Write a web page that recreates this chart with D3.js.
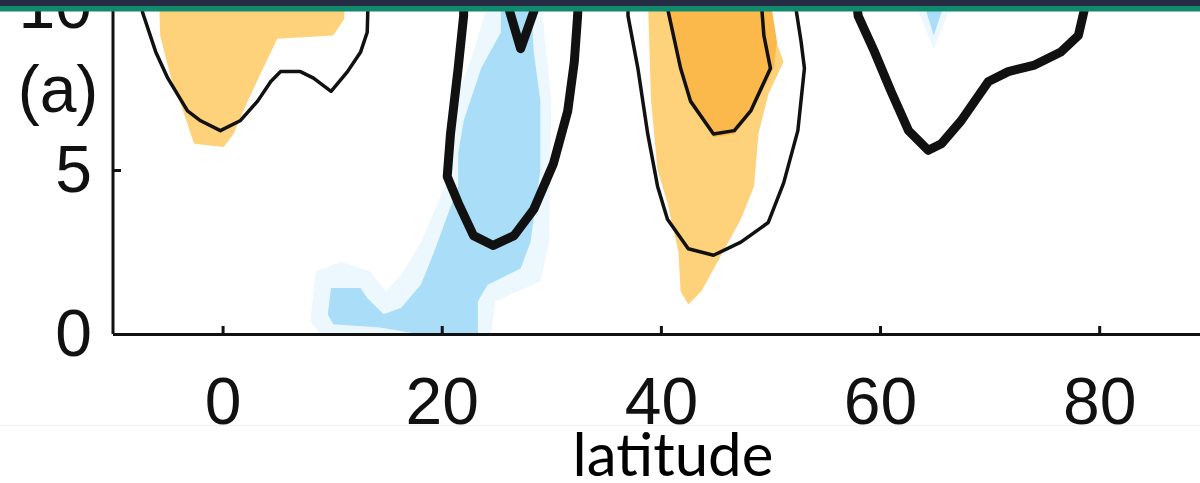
<!DOCTYPE html>
<html>
<head>
<meta charset="utf-8">
<script src="https://cdn.jsdelivr.net/npm/d3@7"></script>
<style>
  body { margin: 0; background: #fff; }
  svg { display: block; }
  .axis path, .axis line { stroke: #111; stroke-width: 3; }
  .axis text { font-family: "Liberation Sans", Arial, sans-serif; font-size: 66px; fill: #111; }
</style>
</head>
<body>
<svg></svg>
<script>
var width = 1200;
var height = 483;

// tick values
var latTicks = [0, 20, 40, 60, 80];
var heightTicks = [0, 5, 10];

// shaded regions, [latitude, height]
var paleBlueSouth = [[8.5,1.9],[8.0,0.4],[8.9,0],[24.5,0],[24.9,1.0],[29.0,1.6],[29.8,2.8],[30.0,7.1],[29.0,10.4],
  [24.5,10.4],[22.6,8.3],[20.8,6.8],[20.4,4.6],[18.1,2.8],[16.3,1.8],[14.9,1.3],[13.5,1.9],[10.8,2.2]];
var blueSouth = [[25.4,10.4],[25.4,9.2],[23.6,8.1],[22.0,6.5],[21.5,5.5],[21.5,4.5],[20.5,3.6],[19.3,2.5],[18.1,1.5],
  [16.3,0.8],[14.7,0.6],[13.2,1.1],[12.6,1.4],[9.9,1.4],[9.6,0.6],[10.1,0.3],[14.4,0.2],[17.8,0],[23.3,0],
  [23.3,1.0],[24.2,1.5],[27.2,2.0],[28.1,2.8],[29.0,5.0],[29.0,7.1],[28.4,8.6],[28.1,10.4]];
var paleBlueNorth = [[62.8,10.4],[64.9,8.7],[67.0,10.4]];
var blueNorth = [[63.7,10.4],[64.9,9.1],[66.2,10.4]];
var orangeWest = [[-5.8,10.4],[-5.7,9.1],[-4.7,7.8],[-3.7,6.9],[-2.6,5.8],[0.1,5.7],[1.0,6.1],[2.3,7.1],[3.7,8.1],
  [5.0,9.0],[10.1,9.1],[11.1,9.6],[11.2,10.4]];
var orangeMid = [[38.8,10.4],[39.1,7.1],[39.7,5.0],[40.6,4.0],[41.6,2.5],[41.8,1.3],[42.5,0.9],[43.7,1.3],[45.5,2.4],
  [47.3,3.5],[48.5,4.5],[48.9,6.1],[49.8,7.3],[51.2,8.3],[50.3,9.1],[50.0,10.4]];
var orangeMidStrong = [[40.3,10.4],[41.8,8.1],[42.7,7.1],[44.8,6.0],[46.7,6.1],[48.2,6.7],[50.3,8.1],[50.6,8.9],[49.9,10.4]];

// contour lines, [latitude, height]
var contourWest = [[-7.5,10.4],[-7.3,9.8],[-6.1,8.6],[-5.0,7.8],[-3.2,6.8],[-2.0,6.5],[-0.2,6.2],[1.6,6.5],[3.2,7.1],
  [4.4,7.7],[5.3,8.0],[7.1,8.0],[8.3,7.8],[9.9,7.4],[11.4,8.0],[12.6,8.6],[13.2,9.2],[13.3,10.4]];
var contourSubtropic = [[22.0,10.4],[22.0,9.7],[21.5,8.1],[20.8,6.1],[20.5,4.8],[21.5,4.0],[22.9,3.0],[24.7,2.7],
  [26.6,3.0],[28.4,3.8],[30.2,5.2],[31.5,6.8],[32.1,8.3],[32.4,9.7],[32.5,10.4]];
var contourNotch = [[25.7,10.4],[27.2,8.7],[29.0,10.4]];
var contourMidOuter = [[37.0,10.4],[37.0,9.7],[37.9,8.1],[38.8,6.1],[39.7,4.5],[40.6,3.5],[42.5,2.6],[44.8,2.4],
  [47.3,2.8],[49.8,3.4],[51.2,4.6],[52.5,6.2],[53.1,8.1],[52.8,8.9],[52.1,10.4]];
var contourMidInner = [[40.3,10.4],[41.8,8.1],[42.7,7.1],[44.8,6.1],[46.7,6.2],[48.2,6.8],[50.0,8.1],[49.4,9.1],[49.1,10.4]];
var contourPolar = [[57.8,10.4],[58.0,9.7],[59.5,8.6],[61.0,7.4],[62.6,6.2],[64.4,5.6],[65.6,5.8],[67.4,6.5],
  [69.9,7.7],[71.7,8.0],[74.1,8.2],[76.5,8.6],[78.1,9.1],[79.0,10.4]];

var svg = d3.select("svg").attr("width", width).attr("height", height);

var x = d3.scaleLinear().domain([-10, 89.2]).range([113, 1200]);
var y = d3.scaleLinear().domain([0, 10]).range([334, 6]);

var defs = svg.append("defs");
defs.append("clipPath").attr("id", "plotClip")
  .append("rect").attr("x", x(-10)).attr("y", 0).attr("width", width).attr("height", y(0));
defs.append("clipPath").attr("id", "figClip")
  .append("rect").attr("x", 0).attr("y", 0).attr("width", width).attr("height", 425);

var fig = svg.append("g").attr("clip-path", "url(#figClip)");
var plot = fig.append("g").attr("clip-path", "url(#plotClip)");

var shape = d3.line().x(function(d) { return x(d[0]); }).y(function(d) { return y(d[1]); })
  .curve(d3.curveLinearClosed);
var line = d3.line().x(function(d) { return x(d[0]); }).y(function(d) { return y(d[1]); })
  .curve(d3.curveLinear);

var fills = [
  {pts: paleBlueSouth, color: "#ecf8fe"},
  {pts: paleBlueNorth, color: "#ecf8fe"},
  {pts: blueSouth, color: "#a9ddf8"},
  {pts: blueNorth, color: "#a9ddf8"},
  {pts: orangeWest, color: "#fed27b"},
  {pts: orangeMid, color: "#fed27b"},
  {pts: orangeMidStrong, color: "#fbb84b"}
];
plot.selectAll("path.fill").data(fills).enter().append("path")
  .attr("class", "fill")
  .attr("d", function(d) { return shape(d.pts); })
  .attr("fill", function(d) { return d.color; });

var contours = [
  {pts: contourWest, w: 3.5},
  {pts: contourMidOuter, w: 3.5},
  {pts: contourMidInner, w: 3.5},
  {pts: contourSubtropic, w: 9},
  {pts: contourNotch, w: 9},
  {pts: contourPolar, w: 9}
];
plot.selectAll("path.contour").data(contours).enter().append("path")
  .attr("class", "contour")
  .attr("d", function(d) { return line(d.pts); })
  .attr("fill", "none")
  .attr("stroke", "#111")
  .attr("stroke-width", function(d) { return d.w; })
  .attr("stroke-linejoin", "round")
  .attr("stroke-linecap", "round");

// axes
fig.append("g").attr("class", "axis")
  .attr("transform", "translate(0," + y(0) + ")")
  .call(d3.axisBottom(x).tickValues(latTicks).tickSizeInner(-8).tickSizeOuter(0).tickPadding(43));

var yAxis = d3.axisLeft(y).tickValues(heightTicks).tickSizeInner(-8).tickSizeOuter(0).tickPadding(21);
fig.append("g").attr("class", "axis")
  .attr("transform", "translate(" + x(-10) + ",0)")
  .call(yAxis)
  .select(".domain").attr("d", "M0," + y(0) + "V-10");

fig.append("text")
  .attr("x", 58).attr("y", 112)
  .attr("text-anchor", "middle")
  .style("font-family", "Liberation Sans, Arial, sans-serif")
  .style("font-size", "66px")
  .attr("fill", "#111")
  .text("(a)");

// edge of the pasted figure
svg.append("line").attr("x1", 0).attr("x2", width).attr("y1", 425.5).attr("y2", 425.5)
  .attr("stroke", "#efefef").attr("stroke-width", 1);

svg.append("text")
  .attr("x", 673).attr("y", 476)
  .attr("text-anchor", "middle")
  .style("font-family", "Lato, 'Open Sans', sans-serif")
  .style("font-size", "60px")
  .attr("fill", "#000")
  .text("latitude");

// slide header bar
svg.append("rect").attr("x", 0).attr("y", 0).attr("width", width).attr("height", 6).attr("fill", "#252b43");
svg.append("rect").attr("x", 0).attr("y", 6).attr("width", width).attr("height", 5.5).attr("fill", "#11896d");
</script>
</body>
</html>
